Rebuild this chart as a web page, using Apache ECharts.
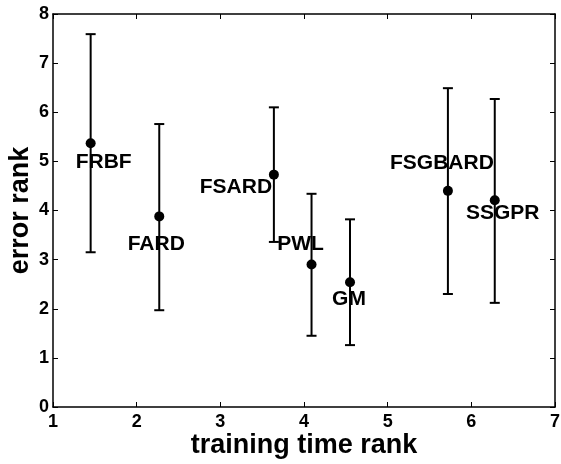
<!DOCTYPE html>
<html>
<head>
<meta charset="utf-8">
<script src="https://cdn.jsdelivr.net/npm/echarts@6/dist/echarts.min.js"></script>
<style>
  html, body { margin: 0; padding: 0; background: #fff; }
  #chart { width: 561px; height: 464px; }
</style>
</head>
<body>
<div id="chart"></div>
<script>
var names = ['FRBF', 'FARD', 'FSARD', 'PWL', 'GM', 'FSGBARD', 'SSGPR'];
var timeRank = [1.45, 2.27, 3.64, 4.09, 4.55, 5.72, 6.28];
var errorRank = [5.37, 3.88, 4.73, 2.90, 2.54, 4.40, 4.21];
var errLow = [3.15, 1.97, 3.36, 1.45, 1.26, 2.30, 2.12];
var errHigh = [7.59, 5.76, 6.10, 4.34, 3.82, 6.49, 6.27];

// where each name sits relative to its dot, px
var labelOffset = {
  FRBF: [13, 19],
  FARD: [-3, 28],
  FSARD: [-38, 13],
  PWL: [-11, -20],
  GM: [-1, 17],
  FSGBARD: [-6, -28],
  SSGPR: [8, 13]
};

var font = 'Liberation Sans, Arial, Helvetica, sans-serif';

var points = names.map(function(n, i) {
  return {
    name: n,
    value: [timeRank[i], errorRank[i]],
    label: { offset: labelOffset[n] }
  };
});
var bars = names.map(function(n, i) {
  return [timeRank[i], errLow[i], errHigh[i]];
});

var chart = echarts.init(document.getElementById('chart'));

var axisCommon = {
  axisLine: { show: true, onZero: false, lineStyle: { color: '#000', width: 1.5 } },
  axisTick: { show: true, inside: true, length: 5, lineStyle: { color: '#000', width: 1 } },
  splitLine: { show: false }
};
var tickFont = { fontFamily: font, fontWeight: 'bold', fontSize: 18, color: '#000' };
var titleFont = { fontFamily: font, fontWeight: 'bold', fontSize: 27, color: '#000' };

chart.setOption({
  animation: false,
  grid: { left: 53, right: 6, top: 14, bottom: 57, containLabel: false, outerBoundsMode: 'none' },
  xAxis: [
    Object.assign({}, axisCommon, {
      type: 'value', min: 1, max: 7, interval: 1, position: 'bottom',
      name: 'training time rank', nameLocation: 'middle', nameGap: 25,
      nameMoveOverlap: false,
      nameTextStyle: titleFont,
      axisLabel: Object.assign({ margin: 6 }, tickFont)
    }),
    Object.assign({}, axisCommon, {
      type: 'value', min: 1, max: 7, interval: 1, position: 'top',
      axisLabel: { show: false }
    })
  ],
  yAxis: [
    Object.assign({}, axisCommon, {
      type: 'value', min: 0, max: 8, interval: 1, position: 'left',
      name: 'error rank', nameLocation: 'middle', nameGap: 19,
      nameMoveOverlap: false,
      nameTextStyle: titleFont,
      axisLabel: Object.assign({ margin: 4 }, tickFont)
    }),
    Object.assign({}, axisCommon, {
      type: 'value', min: 0, max: 8, interval: 1, position: 'right',
      axisLabel: { show: false }
    })
  ],
  series: [
    {
      type: 'custom',
      xAxisIndex: 0, yAxisIndex: 0,
      data: bars,
      renderItem: function(params, api) {
        var x = api.value(0);
        var lo = api.coord([x, api.value(1)]);
        var hi = api.coord([x, api.value(2)]);
        var cap = 5;
        var st = { stroke: '#000', lineWidth: 2 };
        return {
          type: 'group',
          children: [
            { type: 'line', shape: { x1: lo[0], y1: lo[1], x2: hi[0], y2: hi[1] }, style: st },
            { type: 'line', shape: { x1: lo[0] - cap, y1: lo[1], x2: lo[0] + cap, y2: lo[1] }, style: st },
            { type: 'line', shape: { x1: hi[0] - cap, y1: hi[1], x2: hi[0] + cap, y2: hi[1] }, style: st }
          ]
        };
      },
      z: 2
    },
    {
      type: 'scatter',
      xAxisIndex: 0, yAxisIndex: 0,
      data: points,
      symbol: 'circle',
      symbolSize: 10,
      itemStyle: { color: '#000', opacity: 1 },
      label: {
        show: true,
        position: 'inside',
        formatter: '{b}',
        fontFamily: font,
        fontWeight: 'bold',
        fontSize: 21,
        color: '#000',
        textBorderWidth: 0
      },
      z: 3
    }
  ]
});
</script>
</body>
</html>
